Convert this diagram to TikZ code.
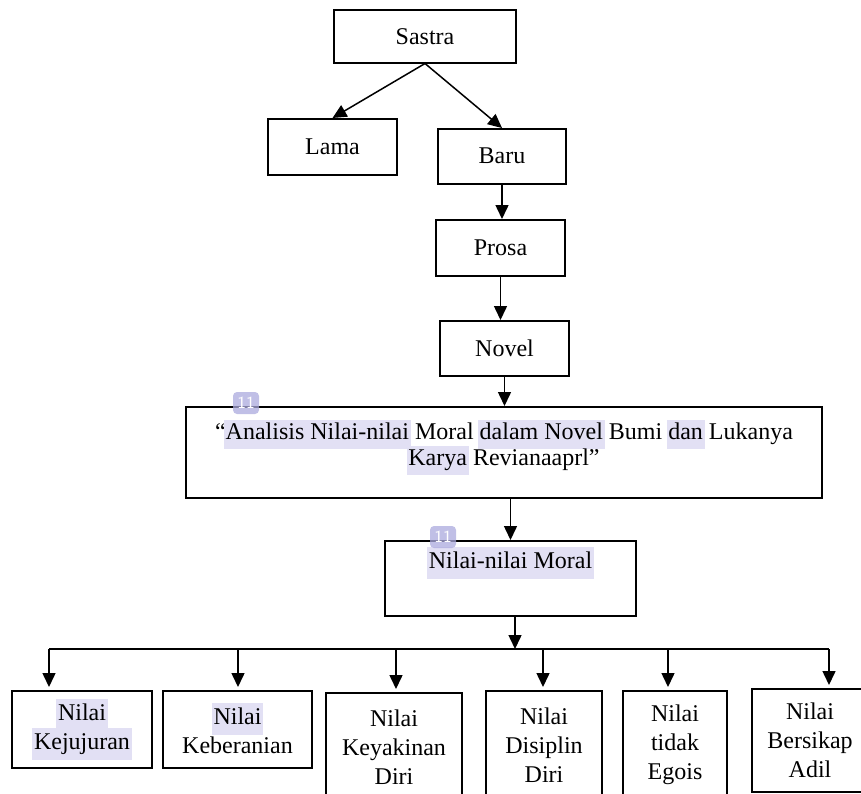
\documentclass[tikz,border=0pt]{standalone}
\usepackage{fontspec}
\setmainfont{Liberation Serif}
\usetikzlibrary{arrows.meta}
\definecolor{hlpurple}{RGB}{226,224,244}
\definecolor{tagpurple}{RGB}{172,170,222}
\newcommand{\hl}[1]{{\setlength{\fboxsep}{0.8pt}\kern-\fboxsep\smash{\colorbox{hlpurple}{\strut #1}}\kern-\fboxsep\strut}}

\begin{document}
\begin{tikzpicture}[x=0.5pt, y=-0.5pt,
  cbox/.style={draw, line width=0.75pt, anchor=north, inner sep=0pt, align=center, font=\fontsize{12}{14.5}\selectfont},
  arr/.style={line width=0.75pt, -{Triangle[length=7pt,width=6.5pt]}},
  tag/.style={fill=tagpurple, fill opacity=0.75, text opacity=1, rounded corners=2pt, text=white, inner sep=0pt, minimum width=13pt, minimum height=11pt, font=\sffamily\fontsize{8.5}{8.5}\selectfont}
]
  \clip (0,0) rectangle (861,793);
  \fill[white] (0,0) rectangle (861,793);

  \node[cbox, minimum width=91pt, minimum height=26.5pt] (sastra) at (425,9) {Sastra};
  \node[cbox, minimum width=64.5pt, minimum height=28pt] (lama) at (332.5,118) {Lama};
  \node[cbox, minimum width=64pt, minimum height=27.5pt] (baru) at (502,128) {Baru};
  \node[cbox, minimum width=64.5pt, minimum height=28pt] (prosa) at (500.5,219) {Prosa};
  \node[cbox, minimum width=64.5pt, minimum height=27.5pt] (novel) at (504.5,320) {Novel};

  \node[cbox, minimum width=318pt, text height=29.5pt, text depth=16pt, font=\fontsize{12}{13}\selectfont] (judul) at (504,406)
    {“\hl{Analisis Nilai-nilai} Moral \hl{dalam Novel} Bumi \hl{dan} Lukanya\\ \hl{Karya} Revianaaprl”};
  \node[cbox, minimum width=125.5pt, text height=14pt, text depth=23.5pt] (moral) at (510.5,540) {\hl{Nilai-nilai Moral}};

  \node[cbox, minimum width=70pt, minimum height=38.5pt] (kejujuran) at (82,690) {\hl{Nilai}\\\hl{Kejujuran}};
  \node[cbox, minimum width=74.5pt, minimum height=38.5pt] (keberanian) at (237.5,690) {\hl{Nilai}\\Keberanian};
  \node[cbox, minimum width=68pt, minimum height=54pt] (keyakinan) at (394,692) {Nilai\\Keyakinan\\Diri};
  \node[cbox, minimum width=58pt, minimum height=54pt] (disiplin) at (544,690) {Nilai\\Disiplin\\Diri};
  \node[cbox, minimum width=52pt, minimum height=54pt] (egois) at (675,690) {Nilai\\tidak\\Egois};
  \node[cbox, minimum width=58pt, minimum height=51.5pt] (adil) at (810,688) {Nilai\\Bersikap\\Adil};

  \node[tag] (tagjudul) at (246,403) {11};
  \node[tag] (tagmoral) at (443,537) {11};

  \draw[arr] (sastra.south) -- (lama.north);
  \draw[arr] (sastra.south) -- (baru.north);
  \draw[arr] (baru.south) -- (baru.south |- prosa.north);
  \draw[arr] (prosa.south) -- (prosa.south |- novel.north);
  \draw[arr] (novel.south) -- (novel.south |- judul.north);
  \draw[arr] (judul.south -| moral.north) -- (moral.north);

  \coordinate (bus) at (515,649);
  \coordinate (d1) at (49,649);
  \coordinate (d2) at (238,649);
  \coordinate (d3) at (396,649);
  \coordinate (d4) at (543,649);
  \coordinate (d5) at (668,649);
  \coordinate (d6) at (829,649);
  \draw[arr] (bus |- moral.south) -- (bus);
  \draw[line width=0.75pt] (d1) -- (d6);
  \draw[arr, shorten >=1.5pt] (d1) -- (d1 |- kejujuran.north);
  \draw[arr, shorten >=1.5pt] (d2) -- (d2 |- keberanian.north);
  \draw[arr, shorten >=1.5pt] (d3) -- (d3 |- keyakinan.north);
  \draw[arr, shorten >=1.5pt] (d4) -- (d4 |- disiplin.north);
  \draw[arr, shorten >=1.5pt] (d5) -- (d5 |- egois.north);
  \draw[arr, shorten >=1.5pt] (d6) -- (d6 |- adil.north);
\end{tikzpicture}
\end{document}
